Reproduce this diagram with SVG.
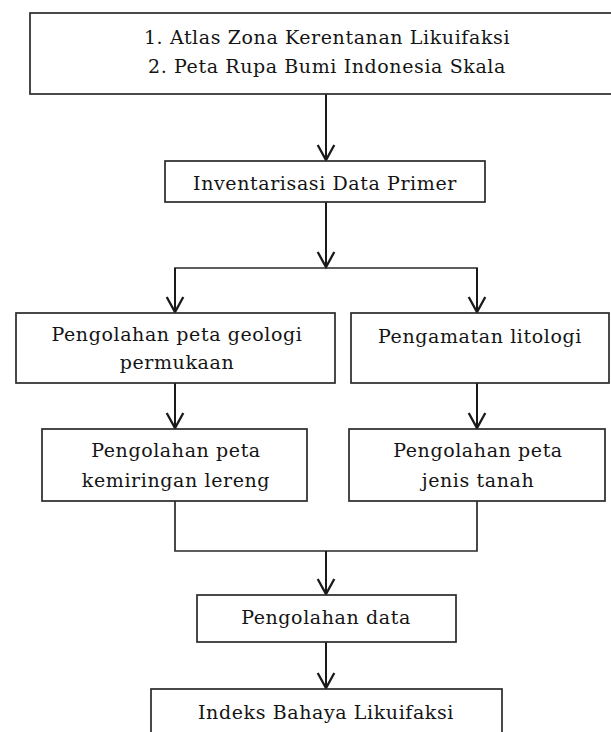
<svg xmlns="http://www.w3.org/2000/svg" width="611" height="732" viewBox="0 0 611 732">
  <style>
    .box { fill: #ffffff; stroke: #2a2a2a; stroke-width: 1.7; }
    .lbl { font-family: "DejaVu Serif", "Liberation Serif", serif; font-size: 19px; letter-spacing: 0.6px; fill: #141414; text-anchor: middle; }
    .flow { fill: none; stroke: #1a1a1a; stroke-width: 2; }
    .join { fill: none; stroke: #2a2a2a; stroke-width: 1.7; }
  </style>
  <defs>
    <!-- open V arrowhead, drawn along the line direction -->
    <marker id="vhead" markerUnits="userSpaceOnUse" markerWidth="24" markerHeight="24" viewBox="-18 -12 24 24" refX="0" refY="0" orient="auto" overflow="visible">
      <path d="M-15,-8.3 L0,0 L-15,8.3" fill="none" stroke="#1a1a1a" stroke-width="2.3" stroke-linejoin="miter"/>
    </marker>
  </defs>
  <rect width="611" height="732" fill="#ffffff"/>

  <!-- connectors -->
  <g id="connectors">
    <line class="flow" x1="326" y1="94" x2="326" y2="160" marker-end="url(#vhead)"/>
    <line class="flow" x1="326" y1="202" x2="326" y2="267" marker-end="url(#vhead)"/>
    <polyline class="join" points="175,312 175,268 477,268 477,312"/>
    <line class="flow" x1="175" y1="268" x2="175" y2="312" marker-end="url(#vhead)"/>
    <line class="flow" x1="477" y1="268" x2="477" y2="312" marker-end="url(#vhead)"/>
    <line class="flow" x1="175" y1="383" x2="175" y2="428" marker-end="url(#vhead)"/>
    <line class="flow" x1="477" y1="383" x2="477" y2="428" marker-end="url(#vhead)"/>
    <polyline class="join" points="175,501 175,551 477,551 477,501"/>
    <line class="flow" x1="326" y1="551" x2="326" y2="594" marker-end="url(#vhead)"/>
    <line class="flow" x1="326" y1="642" x2="326" y2="688" marker-end="url(#vhead)"/>
  </g>

  <!-- data sources -->
  <g id="sources">
    <rect class="box" x="30" y="13" width="600" height="81"/>
    <text class="lbl" x="327" y="44">1. Atlas Zona Kerentanan Likuifaksi</text>
    <text class="lbl" x="327" y="73">2. Peta Rupa Bumi Indonesia Skala</text>
  </g>

  <g id="inventarisasi">
    <rect class="box" x="165" y="161" width="320" height="41"/>
    <text class="lbl" x="325" y="190">Inventarisasi Data Primer</text>
  </g>

  <g id="geologi">
    <rect class="box" x="16" y="313" width="319" height="70"/>
    <text class="lbl" x="177" y="341">Pengolahan peta geologi</text>
    <text class="lbl" x="177" y="369">permukaan</text>
  </g>

  <g id="litologi">
    <rect class="box" x="351" y="313" width="258" height="70"/>
    <text class="lbl" x="480" y="343">Pengamatan litologi</text>
  </g>

  <g id="kemiringan">
    <rect class="box" x="42" y="429" width="265" height="72"/>
    <text class="lbl" x="176" y="457">Pengolahan peta</text>
    <text class="lbl" x="176" y="487">kemiringan lereng</text>
  </g>

  <g id="jenis-tanah">
    <rect class="box" x="349" y="429" width="256" height="72"/>
    <text class="lbl" x="478" y="457">Pengolahan peta</text>
    <text class="lbl" x="478" y="487">jenis tanah</text>
  </g>

  <g id="pengolahan-data">
    <rect class="box" x="197" y="595" width="259" height="47"/>
    <text class="lbl" x="326" y="624">Pengolahan data</text>
  </g>

  <g id="indeks">
    <rect class="box" x="151" y="689" width="351" height="60"/>
    <text class="lbl" x="326" y="719">Indeks Bahaya Likuifaksi</text>
  </g>
</svg>
